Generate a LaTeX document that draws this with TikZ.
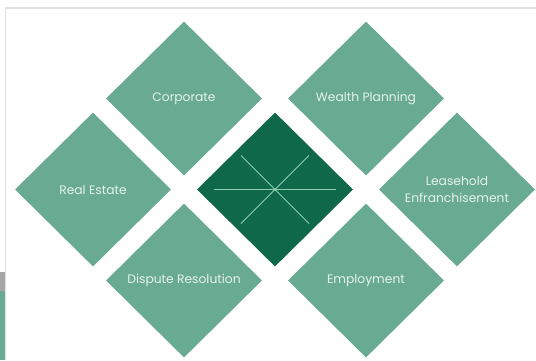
\documentclass[tikz,border=0pt]{standalone}
\usepackage{fontspec}
\setmainfont{Poppins}
\usetikzlibrary{shapes.geometric}

\definecolor{tileteal}{HTML}{68AA92}
\definecolor{tiledark}{HTML}{10684A}
\definecolor{tiletext}{HTML}{E6F2EC}
\definecolor{hubline}{HTML}{8CCFB0}
\definecolor{framegray}{HTML}{E2E2E2}

\begin{document}
\begin{tikzpicture}[x = 1pt, y = -1pt,
	tile/.style = {diamond, fill = tileteal, text = tiletext, minimum width = 156pt, minimum height = 154pt, inner sep = 0pt, align = center, font = \fontsize{12.3}{17}\selectfont},
	spoke/.style = {hubline, line width = 0.9pt}]
	\useasboundingbox (0, 0) rectangle (536, 360);

	% page frame and side tab
	\draw[framegray, line width = 1.5pt] (536, 8) -- (5.5, 8) -- (5.5, 360);
	\fill[gray!70] (0, 272) rectangle (5, 291);
	\fill[tileteal] (0, 291) rectangle (4.5, 360);

	% the six practice areas
	\foreach \x/\y/\name/\txt in {184/98.5/corporate/Corporate, 366/98.5/wealth/Wealth Planning, 93/189.5/realestate/Real Estate, 457/189.5/leasehold/{Leasehold\\Enfranchisement}, 184/280.5/dispute/Dispute Resolution, 366/280.5/employment/Employment}
	\node[tile] (\name) at (\x, \y) {\txt};

	% centre tile with the star
	\node[tile, fill = tiledark] (hub) at (275, 189.5) {};
	\draw[spoke] (hub.center) ++(-61, 0) -- ++(122, 0);
	\draw[spoke] (hub.center) ++(-34, -34) -- ++(68, 68);
	\draw[spoke] (hub.center) ++(34, -34) -- ++(-68, 68);
	\fill[hubline] (hub.center) circle (1.5);
\end{tikzpicture}
\end{document}
